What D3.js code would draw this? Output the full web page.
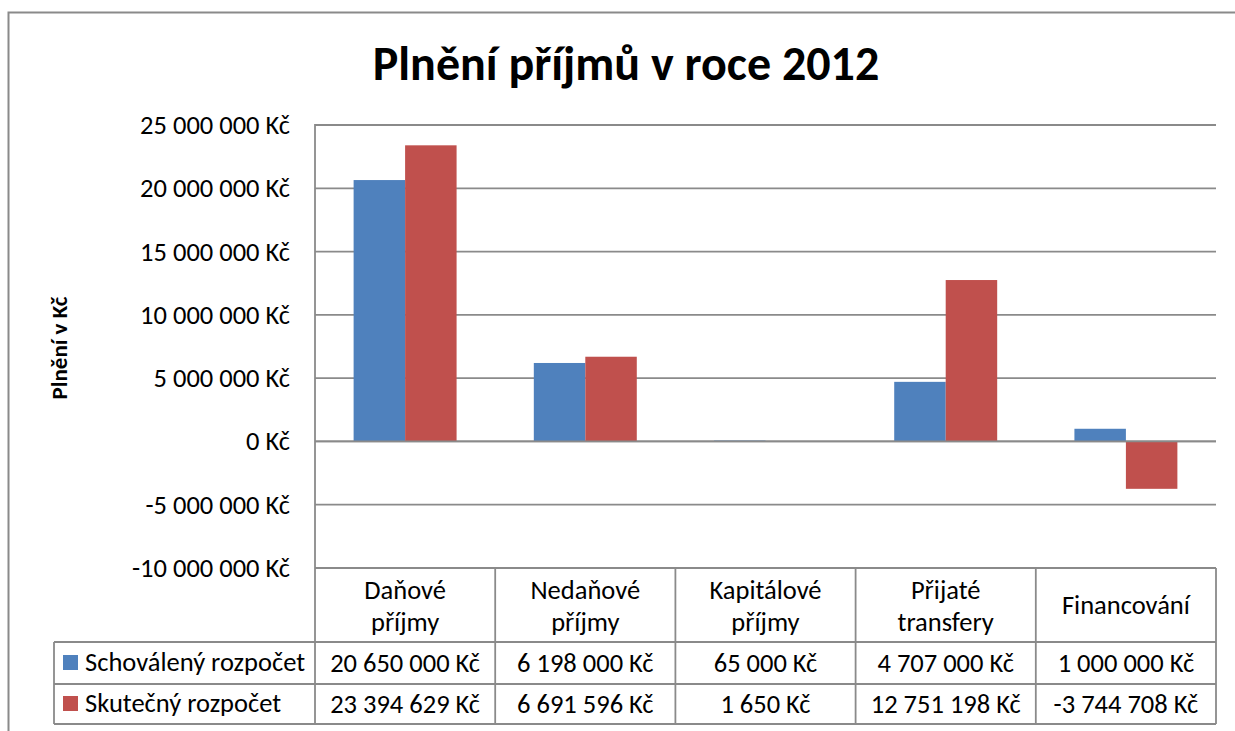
<!DOCTYPE html>
<html>
<head>
<meta charset="utf-8">
<script src="https://cdn.jsdelivr.net/npm/d3@7"></script>
<style>
  html, body { margin: 0; padding: 0; background: #ffffff; }
  svg { display: block; font-family: Carlito, Calibri, Lato, sans-serif; }
</style>
</head>
<body>
<svg id="chart" width="1235" height="731"></svg>
<script>
// ---- data ----
const categories = [["Daňové", "příjmy"], ["Nedaňové", "příjmy"], ["Kapitálové", "příjmy"], ["Přijaté", "transfery"], ["Financování"]];
const seriesNames = ["Schoválený rozpočet", "Skutečný rozpočet"];
const schovaleny = [20650000, 6198000, 65000, 4707000, 1000000];
const skutecny = [23394629, 6691596, 1650, 12751198, -3744708];
const yTicks = [-10000000, -5000000, 0, 5000000, 10000000, 15000000, 20000000, 25000000];
const titleText = "Plnění příjmů v roce 2012";
const yAxisTitle = "Plnění v Kč";
const colors = ["#4F81BD", "#C0504D"];

// ---- layout ----
const svg = d3.select("#chart");
const plotLeft = 315, plotRight = 1216, plotTop = 125, plotBottom = 568;
const headerBottom = 642, row1Bottom = 684, row2Bottom = 724, legendLeft = 54;
const lineColor = "#8a8a8a";
const fs = 26.5;

const locale = d3.formatLocale({decimal: ",", thousands: " ", grouping: [3], currency: ["", " Kč"], minus: "-"});
const fmt = locale.format("$,.0f");

const catIdx = categories.map((d, i) => i);
const x0 = d3.scaleBand().domain(catIdx).range([plotLeft, plotRight]).paddingInner(0).paddingOuter(0);
const x1 = d3.scaleBand().domain([0, 1]).range([0, x0.bandwidth()]).paddingInner(0).paddingOuter(0.75);
const y = d3.scaleLinear().domain([-10000000, 25000000]).range([plotBottom, plotTop]);

// outer border
svg.append("rect").attr("x", 8.5).attr("y", 12.5).attr("width", 1260).attr("height", 760)
  .attr("fill", "none").attr("stroke", lineColor).attr("stroke-width", 2);

// title
svg.append("text").attr("x", 626).attr("y", 80).attr("text-anchor", "middle")
  .attr("font-weight", "bold").attr("font-size", 48).attr("fill", "#000").text(titleText);

// y axis title
svg.append("text").attr("transform", "translate(67,348) rotate(-90)").attr("text-anchor", "middle")
  .attr("font-weight", "bold").attr("font-size", 23).attr("fill", "#000").text(yAxisTitle);

// tick labels via d3 axis
const yAxis = d3.axisLeft(y).tickValues(yTicks).tickFormat(fmt).tickSize(0).tickPadding(25);
const gAxis = svg.append("g").attr("transform", `translate(${plotLeft},0)`).call(yAxis);
gAxis.select(".domain").remove();
gAxis.selectAll("text").attr("font-size", fs).attr("fill", "#000").attr("font-family", "Carlito, Calibri, Lato, sans-serif");

// gridlines
svg.append("g").selectAll("line").data(yTicks).join("line")
  .attr("x1", plotLeft).attr("x2", plotRight)
  .attr("y1", d => y(d)).attr("y2", d => y(d))
  .attr("stroke", lineColor).attr("stroke-width", 1.8);

// bars
const seriesData = [schovaleny, skutecny];
const gBars = svg.append("g");
seriesData.forEach((vals, s) => {
  gBars.selectAll(null).data(vals).join("rect")
    .attr("x", (d, i) => x0(i) + x1(s))
    .attr("width", x1.bandwidth())
    .attr("y", d => y(Math.max(0, d)))
    .attr("height", d => Math.abs(y(d) - y(0)))
    .attr("fill", colors[s]);
});

// zero line over bars
svg.append("line").attr("x1", plotLeft).attr("x2", plotRight).attr("y1", y(0)).attr("y2", y(0))
  .attr("stroke", lineColor).attr("stroke-width", 1.8);

// y-axis line (extends through table)
svg.append("line").attr("x1", plotLeft).attr("x2", plotLeft).attr("y1", plotTop - 1).attr("y2", row2Bottom)
  .attr("stroke", lineColor).attr("stroke-width", 1.8);

// data table lines
const gTable = svg.append("g");
const bounds = catIdx.map(i => x0(i) + x0.bandwidth());
gTable.selectAll("line.v").data(bounds).join("line")
  .attr("x1", d => d).attr("x2", d => d).attr("y1", plotBottom).attr("y2", row2Bottom)
  .attr("stroke", lineColor).attr("stroke-width", 1.8);
[headerBottom, row1Bottom, row2Bottom].forEach(yy => {
  gTable.append("line").attr("x1", legendLeft).attr("x2", plotRight).attr("y1", yy).attr("y2", yy)
    .attr("stroke", lineColor).attr("stroke-width", 1.8);
});
gTable.append("line").attr("x1", legendLeft).attr("x2", legendLeft).attr("y1", headerBottom).attr("y2", row2Bottom)
  .attr("stroke", lineColor).attr("stroke-width", 1.8);

// header category labels
categories.forEach((lines, i) => {
  const cx = x0(i) + x0.bandwidth() / 2;
  const t = gTable.append("text").attr("text-anchor", "middle").attr("font-size", fs).attr("fill", "#000");
  if (lines.length === 2) {
    t.append("tspan").attr("x", cx).attr("y", 599).text(lines[0]);
    t.append("tspan").attr("x", cx).attr("y", 631).text(lines[1]);
  } else {
    t.append("tspan").attr("x", cx).attr("y", 614).text(lines[0]);
  }
});

// value rows + legend keys
const rowBaselines = [672, 713];
seriesData.forEach((vals, s) => {
  gTable.selectAll(null).data(vals).join("text")
    .attr("x", (d, i) => x0(i) + x0.bandwidth() / 2)
    .attr("y", rowBaselines[s])
    .attr("text-anchor", "middle").attr("font-size", fs).attr("fill", "#000")
    .text(d => fmt(d));
  gTable.append("rect").attr("x", 63).attr("y", rowBaselines[s] - 17).attr("width", 15).attr("height", 15)
    .attr("fill", colors[s]);
  gTable.append("text").attr("x", 85).attr("y", rowBaselines[s] - 1)
    .attr("font-size", fs).attr("fill", "#000").text(seriesNames[s]);
});
</script>
</body>
</html>
